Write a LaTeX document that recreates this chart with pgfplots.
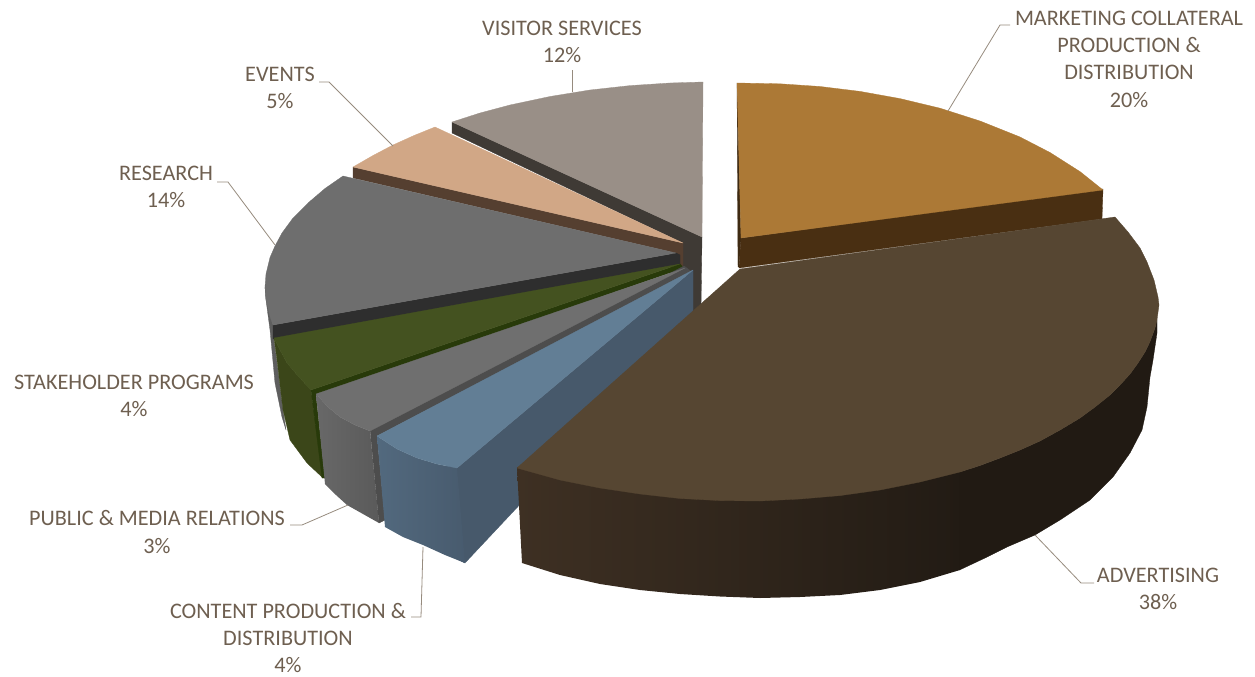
\documentclass[border=0pt]{standalone}
\usepackage{fontspec}
\setmainfont{Carlito}
\usepackage{pgfplots}
\pgfplotsset{compat=1.18}
\definecolor{lbl}{HTML}{6E5F50}
\definecolor{lead}{HTML}{968B7E}
\definecolor{wallA}{HTML}{3E3023}
\definecolor{wallB}{HTML}{221B14}
\definecolor{blueA}{HTML}{52697E}
\definecolor{blueB}{HTML}{485B6E}
\definecolor{greyA}{HTML}{686868}
\definecolor{greyB}{HTML}{5A5A5A}
\pgfplotsset{
  face/.style={/utils/exec={\definecolor{facecol}{HTML}{#1}}, fill=facecol, draw=facecol, line width=0.3pt, line join=round},
  leader/.style={draw=lead, line width=0.8pt},
}
\tikzset{lab/.style={font=\fontsize{22.2}{27.3}\selectfont, text=lbl, align=center, inner sep=0pt}}
\begin{document}
\begin{tikzpicture}
\begin{axis}[
  scale only axis, width=1255pt, height=677pt,
  xmin=0, xmax=1255, ymin=0, ymax=677, y dir=reverse,
  axis lines=none, clip=false,
]
\path (axis cs:0,0) rectangle (axis cs:1255,677);

% back wall of the visitor services slice, with the hub behind the slices
\addplot[face=3F3A35] coordinates {(452,122)(702,237)(701,308)(690,320)(683,243)(452,133)} -- cycle;
\addplot[face=3F3A35] coordinates {(670,250)(684,243)(695,270)(670,275)} -- cycle;
\addplot[face=998F87] coordinates {(702,237)(703,82)(670,83)(630,85.6)(590,90)(550,96.5)(510,105)(480,113)(452,122)} -- cycle;

% events
\addplot[face=553F30] coordinates {(353,167)(683,243)(683,267)(676,267)(676,253)(353,178)} -- cycle;
\addplot[face=D1A786] coordinates {(683,243)(353,167)(373,155.5)(393,145)(414,135.5)(435,127)} -- cycle;

% research
\addplot[face=5E5E5E] coordinates {(265,287)(266,300)(270,330)(275,383)(282,417)(286,430)(283,410)(278,370)(274,340)(273,325)} -- cycle;
\addplot[face=2E2E2E] coordinates {(273,325)(676,253)(680,255)(680,265)(273,339)} -- cycle;
\addplot[face=6E6E6E] coordinates {(676,253)(343,176)(325,188.5)(308,203)(293,218)(282,233)(275,246)(270,257.5)(266,274)(265,287)(266,300)(270,316.5)(273,325)} -- cycle;

% stakeholder programs
\addplot[face=3B4619] coordinates {(274,338)(280,350)(287,363)(298,376)(311,390)(323,478)(307,463)(290,440)(283,410)(277,360)} -- cycle;
\addplot[face=283A0A] coordinates {(311,390)(680,264)(684,268)(316,396)(325,478)(322,478)} -- cycle;
\addplot[face=445220] coordinates {(680,264)(274,338)(280,350)(287,363)(298,376)(311,390)} -- cycle;

% public and media relations
\addplot[left color=greyA, right color=greyB, draw=none] coordinates {(316,394)(328,407)(340,417)(355,425)(370,431)(379,523)(363,514)(347,505)(336,495)(325,484)} -- cycle;
\addplot[face=4D4D4D] coordinates {(370,429)(684,266)(692,272)(377,436)(385,520)(379,523)} -- cycle;
\addplot[face=6F6F6F] coordinates {(685,268)(316,394)(328,407)(340,417)(355,425)(370,431)} -- cycle;

% content production and distribution
\addplot[face=47596B] coordinates {(457,468)(693,270)(693,320)(465,563)(455,558)(447,465)} -- cycle;
\addplot[left color=blueA, right color=blueB, draw=none] coordinates {(377,436)(397,449)(417,458)(437,464)(457,468)(465,563)(445,555)(423,545)(403,537)(385,527)} -- cycle;
\addplot[face=627E95] coordinates {(693,270)(377,436)(397,449)(417,458)(437,464)(457,468)} -- cycle;

% marketing collateral
\addplot[face=3E2A12] coordinates {(737,83)(741,238)(739,267)(738,267)} -- cycle;
\addplot[face=492F12] coordinates {(741,238)(1103,189)(1102,219)(739,268)} -- cycle;
\addplot[face=AC7936] coordinates {(741,238)(737,83)(780,83.8)(820,86.5)(860,91.4)(900,98.6)(940,108.2)(980,121)(1020,137)(1050,152.5)(1080,171.6)(1103,190)} -- cycle;

% advertising: outer wall darkening to the right, then flat
\addplot[left color=wallA, right color=wallB, draw=none] coordinates {(517,467)(560,479)(600,487)(640,493)(680,497)(720,499)(760,500)(800,498)(840,494)(880,489)(920,481)(960,471)(960,570)(920,582)(880,590)(840,595)(800,597)(760,598)(720,596.5)(680,594)(640,590)(600,584)(560,575)(522,563)} -- cycle;
\addplot[face=211A13] coordinates {(959.5,472)(980,465.5)(1000,458)(1020,450)(1040,441)(1060,430)(1080,418)(1095,407)(1110,395)(1120,385)(1130,374)(1138,363)(1145,352)(1150,341.6)(1155,328)(1157,319.7)(1157,333)(1153,360)(1150,377)(1147,407)(1142,430)(1130,453)(1113,477)(1090,500)(1060,520)(1035,535)(1007,547)(985,558)(959.5,570)} -- cycle;
\addplot[face=564632] coordinates {(740,269)(1115,217)(1128,232)(1140,248)(1147,262)(1154,280)(1158,297)(1159,305)(1157,319.7)(1155,328)(1150,341.6)(1145,352)(1138,363)(1130,374)(1120,385)(1110,395)(1095,407)(1080,418)(1060,430)(1040,441)(1020,450)(1000,458)(980,465.5)(960,472)(920,482)(880,490)(840,495.6)(800,499)(760,501)(720,500.6)(680,498.5)(640,494)(600,488)(560,480)(517,468)} -- cycle;

% leader lines
\addplot[leader] coordinates {(948,111)(1000,25)(1010,25)};
\addplot[leader] coordinates {(572,92)(572,70)};
\addplot[leader] coordinates {(319,82)(329,82)(393,146)};
\addplot[leader] coordinates {(217,182)(228,182)(275,245)};
\addplot[leader] coordinates {(290,525)(302,525)(348,505)};
\addplot[leader] coordinates {(411,617)(421,617)(423,547)};
\addplot[leader] coordinates {(1035,535)(1081,583)(1094,583)};

% data labels
\node[lab] at (axis cs:1129,59) {MARKETING COLLATERAL\\PRODUCTION \&\\DISTRIBUTION\\20\%};
\node[lab] at (axis cs:562,42) {VISITOR SERVICES\\12\%};
\node[lab] at (axis cs:280,88) {EVENTS\\5\%};
\node[lab] at (axis cs:166,187) {RESEARCH\\14\%};
\node[lab] at (axis cs:134,396) {STAKEHOLDER PROGRAMS\\4\%};
\node[lab] at (axis cs:157,532) {PUBLIC \& MEDIA RELATIONS\\3\%};
\node[lab] at (axis cs:288,638) {CONTENT PRODUCTION \&\\DISTRIBUTION\\4\%};
\node[lab] at (axis cs:1158,589) {ADVERTISING\\38\%};
\end{axis}
\end{tikzpicture}
\end{document}
